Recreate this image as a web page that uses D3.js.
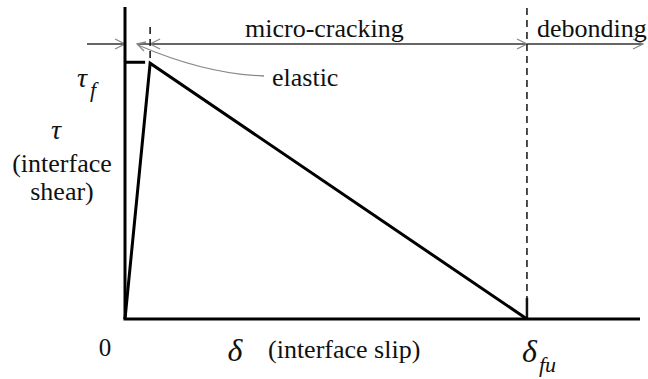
<!DOCTYPE html>
<html>
<head>
<meta charset="utf-8">
<script src="https://cdn.jsdelivr.net/npm/d3@7"></script>
<style>
  html, body { margin: 0; padding: 0; background: #fff; }
  svg { display: block; }
  .lbl { font-family: "Liberation Serif", "Times New Roman", Times, serif; fill: #111; }
</style>
</head>
<body>
<svg id="chart" width="648" height="379"></svg>
<script>
// Bilinear bond-slip law: slip values (normalised) and shear stress (τ / τf)
const slip = [0, 1, 16];
const tau = [0, 1, 0];
// Stages along the slip axis and their bounds
const stages = ["elastic", "micro-cracking", "debonding"];
const stageBounds = [0, 1, 16, 20.5];
const slipMax = 20.5;
const tauMax = 1.22;

const svg = d3.select("#chart");

const x = d3.scaleLinear().domain([0, slipMax]).range([125, 640]);
const y = d3.scaleLinear().domain([0, tauMax]).range([319, 7]);

const gray = "#8a8a8a";
const dark = "#333";

function label(px, py, size, str) {
  const t = svg.append("text").attr("class", "lbl").attr("x", px).attr("y", py)
    .style("font-family", "'Liberation Serif', 'Times New Roman', serif")
    .style("font-size", size + "px");
  if (str !== null) t.text(str);
  return t;
}

// stage arrow row
const arrowY = 44;
function chevron(px, dir) {
  // open arrowhead pointing right (dir=1) or left (dir=-1)
  svg.append("path")
    .attr("d", `M${px - dir * 10},${arrowY - 5} L${px},${arrowY} L${px - dir * 10},${arrowY + 5}`)
    .attr("fill", "none").attr("stroke", gray).attr("stroke-width", 1.3);
}
svg.append("line").attr("x1", 87).attr("x2", x(stageBounds[0])).attr("y1", arrowY).attr("y2", arrowY)
  .attr("stroke", dark).attr("stroke-width", 1.5);
svg.append("line").attr("x1", x(stageBounds[1]) - 13).attr("x2", x(stageBounds[3]) + 3).attr("y1", arrowY).attr("y2", arrowY)
  .attr("stroke", dark).attr("stroke-width", 1.5);
chevron(x(stageBounds[0]), 1);
chevron(x(stageBounds[1]), -1);
chevron(x(stageBounds[2]), 1);
chevron(x(stageBounds[3]) + 3, 1);

// stage labels
label(245, 37, 26, stages[1]);
label(x(stageBounds[2]) + 10, 37, 26, stages[2]);
label(272, 86, 26, stages[0]);

// leader from "elastic" to the elastic stage
svg.append("path")
  .attr("d", `M264,76 Q205,74 ${x(stageBounds[0]) + 13},${arrowY + 1}`)
  .attr("fill", "none").attr("stroke", gray).attr("stroke-width", 1.3);
svg.append("path")
  .attr("d", `M${x(0) + 21},${arrowY - 2} L${x(0) + 12},${arrowY} L${x(0) + 19},${arrowY + 7}`)
  .attr("fill", "none").attr("stroke", gray).attr("stroke-width", 1.3);

// dashed stage boundaries
svg.append("line").attr("x1", x(slip[1])).attr("x2", x(slip[1])).attr("y1", 27).attr("y2", y(tau[1]) - 4)
  .attr("stroke", "#111").attr("stroke-width", 1.5).attr("stroke-dasharray", "7,5");
svg.append("line").attr("x1", x(slip[2])).attr("x2", x(slip[2])).attr("y1", 8).attr("y2", 298)
  .attr("stroke", "#111").attr("stroke-width", 1.5).attr("stroke-dasharray", "7,5");
svg.append("line").attr("x1", x(slip[2])).attr("x2", x(slip[2])).attr("y1", 298).attr("y2", y(0))
  .attr("stroke", "#111").attr("stroke-width", 2.5);

// axes
svg.append("line").attr("x1", x(0)).attr("x2", x(0)).attr("y1", y(tauMax)).attr("y2", y(0))
  .attr("stroke", "#000").attr("stroke-width", 3);
svg.append("line").attr("x1", x(0) - 1.5).attr("x2", x(slipMax)).attr("y1", y(0)).attr("y2", y(0))
  .attr("stroke", "#000").attr("stroke-width", 3);

// τf marker on the shear axis
svg.append("line").attr("x1", x(0)).attr("x2", x(slip[1]) - 5).attr("y1", y(tau[1]) - 1).attr("y2", y(tau[1]) - 1)
  .attr("stroke", "#000").attr("stroke-width", 3);

// bond-slip curve
const line = d3.line().x((d, i) => x(slip[i])).y((d, i) => y(tau[i]));
svg.append("path").datum(slip).attr("d", line)
  .attr("fill", "none").attr("stroke", "#000").attr("stroke-width", 3).attr("stroke-linejoin", "miter");

// axis labels
const tf = label(77, 87, 28, null);
tf.append("tspan").style("font-style", "italic").text("τ");
tf.append("tspan").style("font-style", "italic").style("font-size", "22px").attr("dx", 3).attr("dy", 10).text("f");

label(56, 139, 28, "τ").attr("text-anchor", "middle").style("font-style", "italic");
label(62, 172, 26, "(interface").attr("text-anchor", "middle");
label(62, 200, 26, "shear)").attr("text-anchor", "middle");

label(105, 356, 25, "0").attr("text-anchor", "middle");
label(235, 361, 32, "δ").attr("text-anchor", "middle").style("font-style", "italic");
label(268, 358, 26, "(interface slip)");

const dfu = label(522, 362, 32, null);
dfu.append("tspan").style("font-style", "italic").text("δ");
dfu.append("tspan").style("font-style", "italic").style("font-size", "22px").attr("dx", 2).attr("dy", 10).text("fu");
</script>
</body>
</html>
